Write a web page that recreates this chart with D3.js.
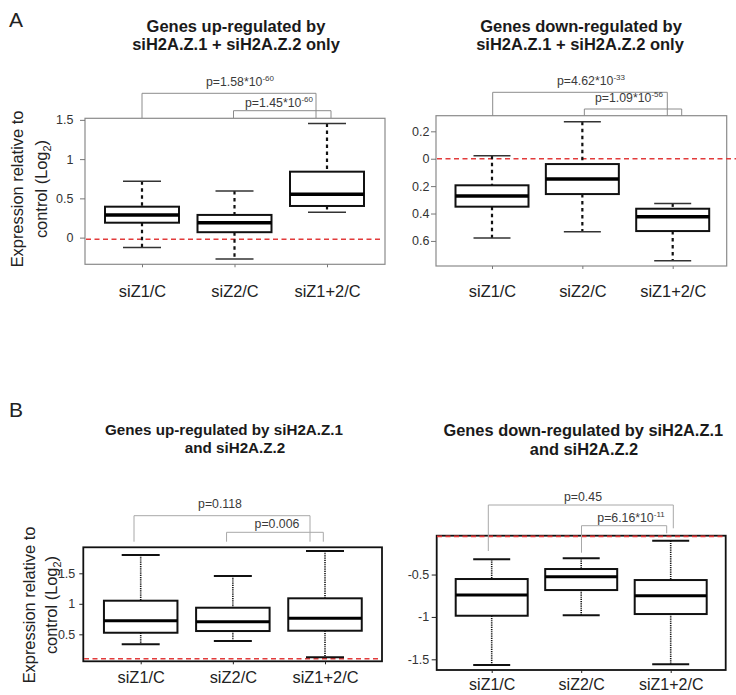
<!DOCTYPE html>
<html>
<head>
<meta charset="utf-8">
<script src="https://cdnjs.cloudflare.com/ajax/libs/d3/7.8.5/d3.min.js"></script>
<style>
  html, body { margin: 0; padding: 0; background: #fff; }
  svg { display: block; font-family: "Liberation Sans", Arial, Helvetica, sans-serif; }
</style>
</head>
<body>
<svg id="chart" width="736" height="695"></svg>
<script>
// ---------- DATA ----------
const categories = ["siZ1/C", "siZ2/C", "siZ1+2/C"];

// five-number summaries per category: [lower whisker, Q1, median, Q3, upper whisker]
const upOnlyStats = [
  [-0.127, 0.19, 0.289, 0.394, 0.717],
  [-0.271, 0.069, 0.19, 0.289, 0.594],
  [0.323, 0.403, 0.552, 0.84, 1.455]
];
const downOnlyStats = [
  [-0.579, -0.35, -0.272, -0.194, 0.022],
  [-0.533, -0.258, -0.148, -0.039, 0.27],
  [-0.745, -0.528, -0.423, -0.365, -0.326]
];
const upBothStats = [
  [0.336, 0.526, 0.723, 1.051, 1.8],
  [0.39, 0.554, 0.707, 0.936, 1.456],
  [0.123, 0.559, 0.762, 1.09, 1.866]
];
const downBothStats = [
  [-1.567, -0.986, -0.742, -0.553, -0.321],
  [-0.981, -0.683, -0.526, -0.435, -0.309],
  [-1.559, -0.966, -0.75, -0.565, -0.101]
];

// tick values and their printed labels
const upOnlyTicks = [0, 0.5, 1, 1.5];
const upOnlyTickLabels = ["0", "0.5", "1", "1.5"];
const downOnlyTicks = [0.2, 0, -0.2, -0.4, -0.6];
const downOnlyTickLabels = ["0.2", "0", "0.2", "0.4", "0.6"];
const upBothTicks = [0.5, 1, 1.5];
const upBothTickLabels = ["0.5", "1", "1.5"];
const downBothTicks = [-0.5, -1, -1.5];
const downBothTickLabels = ["-0.5", "-1", "-1.5"];

// reference (dashed red) line values
const upOnlyRef = -0.02;
const downOnlyRef = 0;
const upBothRef = 0.1;
const downBothRef = -0.05;

// p-value annotations [text, superscript exponent]
const upOnlyP = [["p=1.58*10", "-60"], ["p=1.45*10", "-60"]];
const downOnlyP = [["p=4.62*10", "-33"], ["p=1.09*10", "-56"]];
const upBothP = [["p=0.118", ""], ["p=0.006", ""]];
const downBothP = [["p=0.45", ""], ["p=6.16*10", "-11"]];

// ---------- LAYOUT ----------
const svg = d3.select("#chart");

const panels = [
  {
    stats: upOnlyStats, ticks: upOnlyTicks, tickLabels: upOnlyTickLabels, ref: upOnlyRef, pv: upOnlyP,
    left: 85, right: 385, top: 118.3, bottom: 264.3, yDomain: [-0.34, 1.52],
    xRange: [142, 327], boxW: 74, capW: 38, refX: [86, 383],
    frameColor: "#8a8a8a", frameW: 1.2, style: "A",
    tickLen: 5, tickPad: 6.5, tickFont: 12.5, xTickLen: 3, xLabelBase: 296.7, xFont: 16.4,
    titles: [["Genes up-regulated by", 236, 31.5], ["siH2A.Z.1 + siH2A.Z.2 only", 236, 50]], titleFont: 16.5,
    ylab: { x1: 23, x2: 46.5, cy: 189 },
    brackets: [
      { from: 0, dxFrom: 0, to: 2, dxTo: -11, y: 93.3, e1: 118, e2: 118, tx: 240, ty: 86 },
      { from: 1, dxFrom: -1, to: 2, dxTo: 4, y: 110.7, e1: 118, e2: 118, tx: 279, ty: 107.3 }
    ],
    bracketColor: "#8c8c8c"
  },
  {
    stats: downOnlyStats, ticks: downOnlyTicks, tickLabels: downOnlyTickLabels, ref: downOnlyRef, pv: downOnlyP,
    left: 436, right: 726.7, top: 115.7, bottom: 266, yDomain: [-0.783, 0.314],
    xRange: [492, 672.7], boxW: 73, capW: 37, refX: [437, 736],
    frameColor: "#8a8a8a", frameW: 1.2, style: "A",
    tickLen: 5, tickPad: 1.5, tickFont: 12.5, xTickLen: 3, xLabelBase: 296.7, xFont: 16.4,
    titles: [["Genes down-regulated by", 581, 32], ["siH2A.Z.1 + siH2A.Z.2 only", 580, 50]], titleFont: 16.5,
    ylab: null,
    brackets: [
      { from: 0, dxFrom: 0.7, to: 2, dxTo: -5.4, y: 92.3, e1: 116, e2: 116, tx: 591, ty: 85 },
      { from: 1, dxFrom: 2, to: 2, dxTo: 9, y: 109, e1: 116, e2: 116, tx: 629, ty: 102 }
    ],
    bracketColor: "#8c8c8c"
  },
  {
    stats: upBothStats, ticks: upBothTicks, tickLabels: upBothTickLabels, ref: upBothRef, pv: upBothP,
    left: 83.3, right: 382, top: 547.3, bottom: 661.3, yDomain: [0.058, 1.926],
    xRange: [140.7, 325], boxW: 73.5, capW: 38, refX: [84, 380],
    frameColor: "#111", frameW: 1.8, style: "B",
    tickLen: 4, tickPad: 4, tickFont: 12.5, xTickLen: 3, xLabelBase: 683.5, xFont: 16.4,
    titles: [["Genes up-regulated by siH2A.Z.1", 224, 435], ["and siH2A.Z.2", 235, 453]], titleFont: 15.2,
    ylab: { x1: 35, x2: 56.5, cy: 605 },
    brackets: [
      { from: 0, dxFrom: -6.7, to: 2, dxTo: -15, y: 515.7, e1: 541.7, e2: 541.7, tx: 220, ty: 508 },
      { from: 1, dxFrom: -6.3, to: 2, dxTo: -1.7, y: 532.3, e1: 541.7, e2: 541.7, tx: 277, ty: 528 }
    ],
    bracketColor: "#a8a8a8"
  },
  {
    stats: downBothStats, ticks: downBothTicks, tickLabels: downBothTickLabels, ref: downBothRef, pv: downBothP,
    left: 436.7, right: 725.7, top: 535.7, bottom: 670, yDomain: [-1.626, -0.042],
    xRange: [491.7, 670.7], boxW: 72, capW: 37, refX: [437, 723],
    frameColor: "#111", frameW: 1.8, style: "B",
    tickLen: 5, tickPad: 2.5, tickFont: 12.5, xTickLen: 3, xLabelBase: 690, xFont: 16,
    titles: [["Genes down-regulated by siH2A.Z.1", 583.3, 435.5], ["and siH2A.Z.2", 584, 455]], titleFont: 16.4,
    ylab: null,
    brackets: [
      { from: 0, dxFrom: -3.4, to: 2, dxTo: 2.6, y: 505, e1: 551, e2: 528.3, tx: 583, ty: 500.7 },
      { from: 1, dxFrom: 0.3, to: 2, dxTo: -4, y: 525.7, e1: 552.7, e2: 533.3, tx: 631, ty: 522.3 }
    ],
    bracketColor: "#a8a8a8"
  }
];

function drawPanel(cfg) {
  const g = svg.append("g");
  const y = d3.scaleLinear().domain(cfg.yDomain).range([cfg.bottom, cfg.top]);
  const x = d3.scalePoint().domain(categories).range(cfg.xRange);

  // titles
  cfg.titles.forEach(t => {
    g.append("text").attr("x", t[1]).attr("y", t[2]).attr("text-anchor", "middle")
      .attr("font-weight", "bold").attr("font-size", cfg.titleFont).attr("fill", "#1a1a1a").text(t[0]);
  });

  // y axis label
  if (cfg.ylab) {
    g.append("text")
      .attr("transform", `translate(${cfg.ylab.x1},${cfg.ylab.cy}) rotate(-90)`)
      .attr("text-anchor", "middle").attr("font-size", 16.4).attr("fill", "#222")
      .text("Expression relative to");
    const t2 = g.append("text")
      .attr("transform", `translate(${cfg.ylab.x2},${cfg.ylab.cy}) rotate(-90)`)
      .attr("text-anchor", "middle").attr("font-size", 16.4).attr("fill", "#222");
    t2.append("tspan").text("control (Log");
    t2.append("tspan").attr("font-size", 11).attr("dy", 4).text("2");
    t2.append("tspan").attr("dy", -4).text(")");
  }

  // frame
  g.append("rect").attr("x", cfg.left).attr("y", cfg.top)
    .attr("width", cfg.right - cfg.left).attr("height", cfg.bottom - cfg.top)
    .attr("fill", "none").attr("stroke", cfg.frameColor).attr("stroke-width", cfg.frameW);

  // y axis
  const ya = g.append("g").attr("transform", `translate(${cfg.left},0)`)
    .call(d3.axisLeft(y).tickValues(cfg.ticks).tickFormat((d, i) => cfg.tickLabels[i])
      .tickSize(cfg.tickLen).tickPadding(cfg.tickPad));
  ya.select(".domain").remove();
  ya.selectAll("line").attr("stroke", cfg.style === "A" ? "#777" : "#222").attr("stroke-width", 1);
  ya.selectAll("text").attr("font-size", cfg.tickFont).attr("fill", "#333")
    .attr("font-family", "Liberation Sans, Arial, sans-serif");

  // x axis
  const xa = g.append("g").attr("transform", `translate(0,${cfg.bottom})`)
    .call(d3.axisBottom(x).tickSize(cfg.xTickLen)
      .tickPadding(cfg.xLabelBase - cfg.bottom - cfg.xTickLen - 0.71 * cfg.xFont));
  xa.select(".domain").remove();
  xa.selectAll("line").attr("stroke", cfg.style === "A" ? "#777" : "#222").attr("stroke-width", 1);
  xa.selectAll("text").attr("font-size", cfg.xFont).attr("fill", "#222")
    .attr("font-family", "Liberation Sans, Arial, sans-serif");

  // reference line
  g.append("line").attr("x1", cfg.refX[0]).attr("x2", cfg.refX[1])
    .attr("y1", y(cfg.ref)).attr("y2", y(cfg.ref))
    .attr("stroke", "#e23b3b").attr("stroke-width", 1.6).attr("stroke-dasharray", "5,3.5");

  // boxes
  const isA = cfg.style === "A";
  const whiskDash = isA ? "3.5,3.5" : "1.2,1";
  const whiskW = isA ? 2.2 : 1.6;
  const capColor = isA ? "#333" : "#111";
  const capW = isA ? 1.5 : 2;
  const boxes = g.selectAll(".box").data(cfg.stats).enter().append("g");
  boxes.each(function (s, i) {
    const b = d3.select(this);
    const cx = x(categories[i]);
    // whiskers
    b.append("line").attr("x1", cx).attr("x2", cx).attr("y1", y(s[4])).attr("y2", y(s[3]))
      .attr("stroke", "#111").attr("stroke-width", whiskW).attr("stroke-dasharray", whiskDash);
    b.append("line").attr("x1", cx).attr("x2", cx).attr("y1", y(s[1])).attr("y2", y(s[0]))
      .attr("stroke", "#111").attr("stroke-width", whiskW).attr("stroke-dasharray", whiskDash);
    // caps
    [s[0], s[4]].forEach(v => {
      b.append("line").attr("x1", cx - cfg.capW / 2).attr("x2", cx + cfg.capW / 2)
        .attr("y1", y(v)).attr("y2", y(v)).attr("stroke", capColor).attr("stroke-width", capW);
    });
    // box
    b.append("rect").attr("x", cx - cfg.boxW / 2).attr("width", cfg.boxW)
      .attr("y", y(s[3])).attr("height", y(s[1]) - y(s[3]))
      .attr("fill", "#fff").attr("stroke", "#111").attr("stroke-width", 2);
    // median
    b.append("line").attr("x1", cx - cfg.boxW / 2).attr("x2", cx + cfg.boxW / 2)
      .attr("y1", y(s[2])).attr("y2", y(s[2])).attr("stroke", "#000").attr("stroke-width", isA ? 3.5 : 3);
  });

  // brackets + p-values
  cfg.brackets.forEach((br, i) => {
    const xa1 = x(categories[br.from]) + br.dxFrom;
    const xa2 = x(categories[br.to]) + br.dxTo;
    g.append("path")
      .attr("d", `M${xa1},${br.e1}V${br.y}H${xa2}V${br.e2}`)
      .attr("fill", "none").attr("stroke", cfg.bracketColor).attr("stroke-width", 1);
    const t = g.append("text").attr("x", br.tx).attr("y", br.ty).attr("text-anchor", "middle")
      .attr("font-size", 12.3).attr("fill", "#3a3a3a");
    t.append("tspan").text(cfg.pv[i][0]);
    if (cfg.pv[i][1]) {
      t.append("tspan").attr("font-size", 8).attr("dy", -5).text(cfg.pv[i][1]);
    }
  });
}

panels.forEach(drawPanel);

// panel letters
svg.append("text").attr("x", 9).attr("y", 27).attr("font-size", 21).attr("fill", "#222").text("A");
svg.append("text").attr("x", 9).attr("y", 417).attr("font-size", 21).attr("fill", "#222").text("B");
</script>
</body>
</html>
